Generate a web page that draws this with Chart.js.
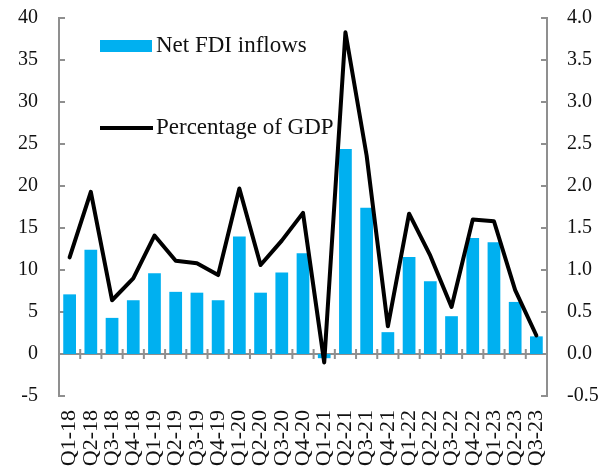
<!DOCTYPE html>
<html><head><meta charset="utf-8">
<script src="https://cdn.jsdelivr.net/npm/chart.js@4/dist/chart.umd.min.js"></script>
<style>html,body{margin:0;padding:0;background:#fff;overflow:hidden;}</style>
</head><body>
<canvas id="c" width="605" height="472" style="width:605px;height:472px;display:block"></canvas>
<script>
const categories = ["Q1-18","Q2-18","Q3-18","Q4-18","Q1-19","Q2-19","Q3-19","Q4-19","Q1-20","Q2-20","Q3-20","Q4-20","Q1-21","Q2-21","Q3-21","Q4-21","Q1-22","Q2-22","Q3-22","Q4-22","Q1-23","Q2-23","Q3-23"];
const netFdiInflows = [7.1,12.4,4.3,6.4,9.6,7.4,7.3,6.4,14.0,7.3,9.7,12.0,-0.5,24.4,17.4,2.6,11.55,8.65,4.5,13.8,13.3,6.2,2.1];
const percentOfGdp = [1.15,1.93,0.64,0.90,1.41,1.11,1.08,0.94,1.97,1.06,1.35,1.68,-0.10,3.83,2.36,0.33,1.67,1.17,0.56,1.60,1.58,0.76,0.22];
const leftAxisRange = [-5, 40, 5];
const rightAxisRange = [-0.5, 4.0, 0.5];
const seriesNames = ["Net FDI inflows", "Percentage of GDP"];

const FONT = "'Liberation Serif', 'Times New Roman', serif";
const AXIS_COLOR = "#8f8f8f";

const axesPlugin = {
  id: 'axesPlugin',
  beforeDatasetsDraw(chart) {
    const ctx = chart.ctx;
    const x = chart.scales.x, yl = chart.scales.y, yr = chart.scales.y1;
    const ca = chart.chartArea;
    ctx.save();
    ctx.strokeStyle = AXIS_COLOR;
    ctx.lineWidth = 2;
    const y0 = yl.getPixelForValue(0);
    ctx.beginPath(); ctx.moveTo(ca.left, y0); ctx.lineTo(ca.right, y0); ctx.stroke();
    const n = categories.length;
    const w = (x.getPixelForValue(1) - x.getPixelForValue(0));
    for (let i = 0; i <= n; i++) {
      const px = x.getPixelForValue(0) - w/2 + i*w;
      ctx.beginPath(); ctx.moveTo(px, y0-5); ctx.lineTo(px, y0+5); ctx.stroke();
    }
    yl.ticks.forEach(t => {
      const py = yl.getPixelForValue(t.value);
      ctx.beginPath(); ctx.moveTo(ca.left, py); ctx.lineTo(ca.left+6, py); ctx.stroke();
    });
    yr.ticks.forEach(t => {
      const py = yr.getPixelForValue(t.value);
      ctx.beginPath(); ctx.moveTo(ca.right-6, py); ctx.lineTo(ca.right, py); ctx.stroke();
    });
    ctx.restore();
  },
  afterDraw(chart) {
    const ctx = chart.ctx;
    const ds = chart.data.datasets;
    ctx.save();
    ctx.font = "23px " + FONT;
    ctx.textBaseline = "middle";
    ctx.fillStyle = ds[0].backgroundColor;
    ctx.fillRect(100, 40, 52, 12);
    ctx.fillStyle = "#111";
    ctx.fillText(ds[0].label, 156, 46);
    ctx.strokeStyle = ds[1].borderColor;
    ctx.lineWidth = 4;
    ctx.beginPath(); ctx.moveTo(100, 128); ctx.lineTo(153, 128); ctx.stroke();
    ctx.fillText(ds[1].label, 156, 128);
    ctx.restore();
  }
};

new Chart(document.getElementById('c'), {
  data: {
    labels: categories,
    datasets: [
      { type: 'bar', label: seriesNames[0], data: netFdiInflows, yAxisID: 'y',
        backgroundColor: '#00B0F0', borderWidth: 0, order: 2,
        categoryPercentage: 1.0, barPercentage: 0.6 },
      { type: 'line', label: seriesNames[1], data: percentOfGdp, yAxisID: 'y1',
        borderColor: '#000000', backgroundColor: '#000000', borderWidth: 4,
        pointRadius: 0, tension: 0, order: 1, borderJoinStyle: 'round', borderCapStyle: 'round' }
    ]
  },
  options: {
    responsive: false,
    devicePixelRatio: 1,
    animation: false,
    layout: { padding: { top: 0, left: 0, right: 0, bottom: 0 } },
    plugins: { legend: { display: false }, tooltip: { enabled: false } },
    scales: {
      x: {
        position: 'bottom',
        grid: { display: false, drawTicks: false },
        border: { display: false },
        afterFit(s) { s.height = 76; s.paddingTop = 0; s.paddingBottom = 0; s.paddingLeft = 0; s.paddingRight = 0; },
        ticks: { autoSkip: false, minRotation: 90, maxRotation: 90, padding: 14,
          color: '#111', font: { family: FONT, size: 22 } }
      },
      y: {
        position: 'left',
        min: leftAxisRange[0], max: leftAxisRange[1],
        grid: { display: false, drawTicks: false },
        border: { display: true, color: AXIS_COLOR, width: 2 },
        afterFit(s) { s.width = 59; s.paddingTop = 18; s.paddingBottom = 0; },
        ticks: { stepSize: leftAxisRange[2], padding: 21, color: '#111',
          font: { family: FONT, size: 20 } }
      },
      y1: {
        position: 'right',
        min: rightAxisRange[0], max: rightAxisRange[1],
        grid: { display: false, drawTicks: false },
        border: { display: true, color: AXIS_COLOR, width: 2 },
        afterFit(s) { s.width = 58; s.paddingTop = 18; s.paddingBottom = 0; },
        ticks: { stepSize: rightAxisRange[2], padding: 20, color: '#111',
          font: { family: FONT, size: 20 },
          callback: v => Number(v).toFixed(1) }
      }
    }
  },
  plugins: [axesPlugin]
});
</script>
</body></html>
